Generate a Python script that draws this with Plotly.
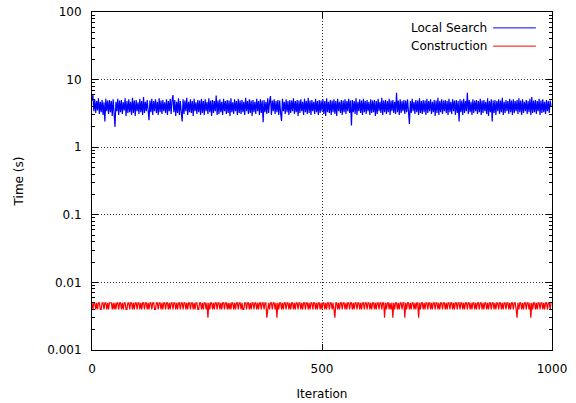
import plotly.graph_objects as go

# Iterations sampled every 2 steps
iterations = list(range(0, 1000, 2))

# Local Search time per iteration (s)
local_search = [
    4.9, 5.9, 3.4, 5.1, 3.2, 4.8, 3.5, 5.3, 3.1, 4.7, 3.3, 5.0, 3.0, 4.6, 2.4, 5.2, 3.4, 4.9, 3.1, 5.0,
    3.3, 4.8, 2.9, 5.1, 3.2, 2.0, 4.7, 3.4, 5.2, 3.0, 4.9, 3.3, 5.0, 3.1, 4.6, 3.5, 5.3, 2.9, 4.8, 3.2,
    5.1, 3.3, 4.7, 3.0, 5.4, 3.2, 4.9, 2.9, 5.0, 3.4, 4.6, 3.1, 5.2, 3.3, 4.8, 3.0, 5.5, 3.2, 4.7, 3.4,
    5.0, 3.1, 2.5, 4.9, 3.3, 5.2, 3.0, 4.8, 3.4, 5.1, 3.2, 4.7, 3.0, 5.3, 3.3, 4.9, 3.1, 5.0, 3.4, 4.6,
    3.2, 5.1, 3.0, 4.8, 3.4, 5.2, 3.1, 4.9, 5.9, 3.3, 5.0, 2.9, 4.7, 3.2, 5.3, 3.0, 4.8, 3.3, 2.4, 5.1,
    3.1, 4.9, 3.4, 5.4, 3.0, 4.7, 3.3, 5.1, 3.2, 4.8, 2.9, 5.2, 3.4, 4.6, 3.1, 5.0, 3.3, 4.9, 3.0, 5.2,
    3.2, 4.8, 3.0, 5.1, 3.4, 4.7, 3.1, 5.3, 3.3, 4.9, 2.9, 5.0, 3.2, 4.8, 3.4, 5.8, 3.0, 4.9, 3.1, 5.1,
    3.3, 4.7, 3.0, 5.2, 3.4, 4.8, 3.1, 5.0, 3.2, 4.9, 2.9, 5.3, 3.3, 4.6, 3.1, 5.1, 3.4, 4.8, 3.0, 5.2,
    3.2, 4.9, 3.1, 5.0, 3.3, 4.7, 3.0, 5.4, 3.4, 4.8, 3.1, 5.1, 3.2, 4.9, 2.9, 5.0, 3.3, 4.7, 3.1, 5.2,
    3.4, 4.8, 3.0, 5.1, 3.2, 4.9, 2.35, 5.0, 3.3, 4.7, 3.1, 5.3, 3.2, 4.8, 5.7, 3.0, 4.9, 3.4, 5.1, 3.1,
    4.8, 3.3, 5.0, 3.0, 4.9, 3.2, 2.45, 5.2, 3.4, 4.7, 3.1, 5.1, 3.3, 4.8, 3.0, 5.0, 3.2, 4.9, 3.4, 5.3,
    3.1, 4.8, 3.3, 5.0, 2.9, 4.9, 3.2, 5.1, 3.4, 4.7, 3.0, 5.2, 3.3, 4.8, 3.1, 5.4, 3.2, 4.9, 3.0, 5.0,
    3.4, 4.7, 3.1, 5.2, 3.3, 4.8, 3.0, 5.0, 3.2, 4.9, 3.4, 5.1, 3.1, 4.8, 2.9, 5.3, 3.3, 4.7, 3.2, 5.0,
    3.0, 4.9, 3.3, 5.1, 3.1, 4.8, 2.9, 5.2, 3.4, 4.7, 3.2, 5.0, 3.0, 4.9, 3.3, 5.1, 3.1, 4.8, 3.4, 5.2,
    3.2, 4.9, 2.1, 5.0, 3.3, 4.8, 3.1, 5.3, 3.0, 4.7, 3.4, 5.1, 3.2, 4.9, 3.0, 5.2, 3.3, 4.8, 3.1, 5.0,
    3.4, 4.7, 3.0, 5.1, 3.2, 4.9, 3.3, 5.0, 2.9, 4.8, 3.1, 5.2, 3.4, 4.7, 3.2, 5.4, 3.0, 4.9, 3.3, 5.0,
    3.1, 4.8, 3.3, 5.2, 3.0, 4.9, 3.4, 5.0, 3.2, 4.7, 3.1, 6.4, 3.3, 4.9, 3.0, 5.1, 3.2, 4.8, 3.4, 5.0,
    3.1, 4.9, 3.3, 5.1, 3.0, 2.2, 4.8, 3.2, 5.2, 3.4, 4.7, 3.1, 5.0, 3.3, 4.9, 3.0, 5.3, 3.2, 4.8, 3.1,
    5.0, 3.3, 4.9, 3.0, 5.2, 3.2, 4.8, 3.4, 5.1, 3.1, 4.7, 3.3, 5.0, 2.9, 4.9, 3.2, 5.4, 3.0, 4.8, 3.3,
    5.1, 3.1, 4.9, 3.4, 5.0, 3.2, 4.8, 3.0, 5.2, 3.3, 4.7, 3.1, 5.1, 3.4, 4.9, 3.0, 5.0, 3.2, 4.8, 2.4,
    5.1, 3.3, 4.9, 3.0, 5.2, 3.2, 4.8, 3.4, 6.4, 3.1, 5.0, 3.3, 4.7, 3.0, 5.1, 3.2, 4.9, 3.4, 5.0, 3.1,
    4.8, 3.3, 5.2, 3.0, 4.9, 3.2, 5.0, 3.4, 4.7, 3.1, 5.3, 2.9, 4.8, 3.3, 5.1, 2.4, 4.9, 3.2, 5.0, 3.0,
    4.8, 3.4, 5.1, 3.1, 4.9, 3.3, 5.4, 3.0, 4.7, 3.2, 5.0, 3.4, 4.8, 3.1, 5.2, 3.3, 4.9, 3.0, 5.1, 3.2,
    4.8, 3.4, 5.0, 3.1, 5.3, 3.3, 4.9, 3.0, 5.1, 3.2, 4.7, 3.4, 5.0, 3.1, 4.8, 3.3, 5.2, 3.0, 5.5, 3.2,
    4.9, 3.3, 5.0, 3.1, 4.8, 3.4, 5.2, 3.0, 4.9, 3.2, 5.1, 3.3, 4.7, 3.1, 5.0, 3.4, 4.8, 3.2, 4.9, 4.1,
]

# Construction time per iteration (milliseconds, timer resolution 1 ms)
construction_ms = [
    5, 4, 5, 5, 4, 5, 4, 5, 5, 4, 4, 5, 5, 4, 5, 5, 4, 5, 4, 5, 5, 5, 4, 5, 4,
    5, 4, 5, 5, 4, 5, 5, 4, 5, 4, 5, 5, 4, 4, 5, 5, 4, 5, 5, 4, 5, 4, 5, 5, 4,
    5, 5, 4, 5, 4, 5, 5, 4, 5, 5, 4, 5, 4, 5, 5, 4, 5, 5, 4, 4, 5, 5, 4, 5, 5,
    4, 5, 4, 5, 5, 4, 5, 5, 4, 5, 4, 5, 5, 4, 5, 5, 4, 5, 4, 5, 5, 4, 5, 5, 4,
    5, 5, 4, 5, 4, 5, 5, 4, 5, 5, 4, 5, 4, 5, 5, 4, 4, 5, 5, 4, 5, 4, 5, 5, 4,
    5, 3, 5, 4, 5, 5, 4, 5, 4, 5, 5, 4, 5, 5, 4, 5, 4, 5, 5, 4, 5, 5, 4, 5, 4,
    5, 4, 5, 5, 4, 5, 4, 5, 5, 4, 5, 5, 4, 5, 4, 4, 5, 5, 4, 5, 5, 4, 5, 4, 5,
    5, 4, 5, 5, 4, 5, 4, 5, 5, 4, 5, 5, 4, 5, 5, 3, 4, 5, 4, 5, 5, 4, 5, 5, 4,
    5, 3, 5, 4, 5, 5, 4, 5, 4, 5, 5, 4, 5, 5, 4, 5, 4, 5, 5, 4, 5, 4, 5, 5, 4,
    5, 5, 4, 5, 4, 5, 5, 4, 5, 5, 4, 5, 4, 5, 5, 4, 5, 5, 4, 5, 4, 5, 5, 4, 5,
    4, 5, 5, 4, 5, 4, 5, 5, 4, 5, 5, 4, 5, 4, 3, 5, 5, 4, 5, 4, 5, 5, 4, 5, 5,
    4, 5, 4, 5, 5, 4, 5, 5, 4, 5, 4, 5, 5, 4, 5, 5, 4, 5, 4, 5, 5, 4, 5, 5, 4,
    5, 5, 4, 5, 4, 5, 5, 4, 5, 4, 5, 5, 4, 5, 5, 4, 5, 5, 3, 5, 4, 5, 5, 4, 5,
    4, 5, 3, 5, 4, 5, 5, 4, 5, 4, 5, 5, 4, 5, 5, 3, 5, 4, 5, 5, 4, 5, 4, 5, 5,
    4, 5, 4, 5, 5, 3, 5, 4, 5, 5, 4, 5, 4, 5, 5, 4, 5, 5, 4, 5, 4, 5, 5, 4, 5,
    5, 4, 5, 4, 5, 5, 4, 5, 5, 4, 5, 4, 5, 5, 4, 5, 5, 4, 5, 4, 5, 5, 4, 5, 5,
    4, 5, 5, 4, 5, 4, 5, 5, 4, 5, 5, 4, 5, 4, 5, 5, 4, 5, 4, 5, 5, 4, 5, 5, 4,
    5, 4, 5, 5, 4, 5, 4, 5, 5, 4, 5, 5, 4, 5, 4, 5, 5, 4, 5, 5, 4, 5, 4, 5, 5,
    4, 5, 5, 4, 5, 4, 5, 5, 4, 5, 5, 4, 3, 5, 4, 5, 5, 4, 5, 4, 5, 5, 4, 5, 5,
    4, 5, 3, 5, 4, 5, 5, 4, 5, 4, 5, 5, 4, 5, 5, 4, 5, 4, 5, 5, 4, 5, 5, 4, 5,
]
construction = [v / 1000.0 for v in construction_ms]

series_names = ["Local Search", "Construction"]
series_colors = ["#0000ff", "#ff0000"]

x_tickvals = [0, 500, 1000]
y_tickvals = [0.001, 0.01, 0.1, 1, 10, 100]
y_ticktext = ["0.001", "0.01", "0.1", "1", "10", "100"]
y_minor = [m * 10 ** e for e in range(-3, 2) for m in range(2, 10)]

FONT = "DejaVu Sans"

fig = go.Figure()
for name, ys, col in zip(series_names, [local_search, construction], series_colors):
    fig.add_trace(go.Scatter(x=iterations, y=ys, mode="lines", name=name,
                             line=dict(color=col, width=1.2), showlegend=False))

axis_common = dict(
    showline=True, linecolor="#000", linewidth=1, mirror="allticks",
    ticks="inside", ticklen=6, tickcolor="#000", tickwidth=1,
    showgrid=True, gridcolor="rgba(0,0,0,0.8)", griddash="1px,2px", gridwidth=1,
    zeroline=False, automargin=False, ticklabeloverflow="allow",
    tickfont=dict(family=FONT, size=12, color="#000"),
)

fig.update_xaxes(range=[0, 1000], tickvals=x_tickvals, ticktext=[str(v) for v in x_tickvals],
                 ticklabelstandoff=8,
                 title=dict(text="Iteration", font=dict(family=FONT, size=12, color="#000"), standoff=14),
                 **axis_common)
fig.update_yaxes(type="log", range=[-3, 2], tickvals=y_tickvals, ticktext=y_ticktext,
                 ticklabelstandoff=7,
                 minor=dict(tickvals=y_minor, ticks="inside", ticklen=3, tickcolor="#000", showgrid=False),
                 title=dict(text="Time (s)", font=dict(family=FONT, size=12, color="#000"), standoff=21),
                 **axis_common)

# gnuplot-style key (text on the left, sample line on the right)
key_y = [0.953, 0.899]
for name, col, ky in zip(series_names, series_colors, key_y):
    fig.add_annotation(x=0.863, y=ky, xref="paper", yref="paper", text=name, showarrow=False,
                       xanchor="right", yanchor="middle", font=dict(family=FONT, size=12, color="#000"))
    fig.add_shape(type="line", xref="paper", yref="paper", x0=0.872, x1=0.965, y0=ky, y1=ky,
                  line=dict(color=col, width=1))

fig.update_layout(
    width=576, height=403,
    margin=dict(l=92, r=24, t=12, b=53),
    paper_bgcolor="white", plot_bgcolor="white",
    font=dict(family=FONT, size=12, color="#000"),
)

# remove the default 8 px page margin so the figure fills the window exactly
fig.write_html("out.html", config={"displayModeBar": False},
               post_script="document.body.style.margin='0px';")
